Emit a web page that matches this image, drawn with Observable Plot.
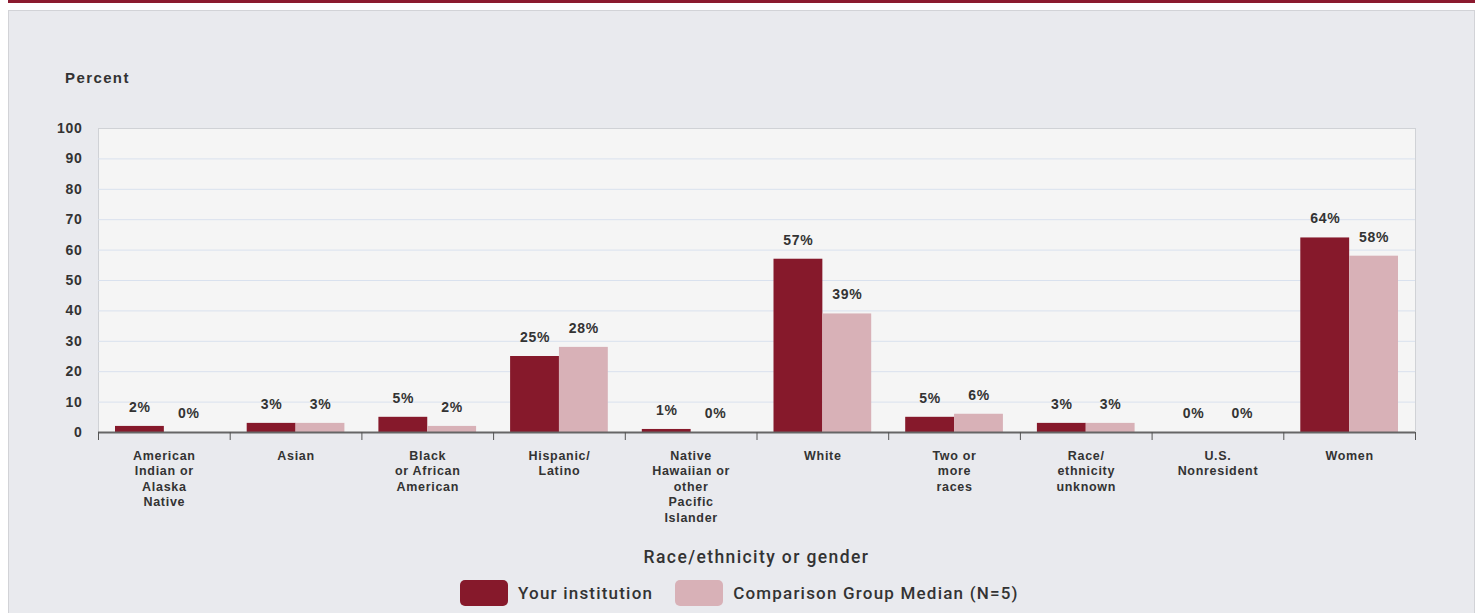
<!DOCTYPE html>
<html><head><meta charset="utf-8">
<script src="https://cdn.jsdelivr.net/npm/d3@7"></script>
<script src="https://cdn.jsdelivr.net/npm/@observablehq/plot@0.6"></script>
<style>
body{margin:0;background:#fff;width:1479px;height:613px;overflow:hidden;position:relative;font-family:"Liberation Sans",Arial,sans-serif}
#topbar{position:absolute;left:8px;top:0;width:1467px;height:3px;background:#8b1a2f}
#panel{position:absolute;left:8px;top:10px;width:1465px;height:610px;background:#e9eaee;border:1px solid #d2d3d7}
#ylabel{position:absolute;left:56px;top:58px;font-weight:bold;font-size:15px;letter-spacing:1.4px;color:#333}
#chart{position:absolute;left:0;top:100px}
#chart svg text{letter-spacing:0.7px}
#xtitle{position:absolute;left:89px;width:1317px;top:536px;text-align:center;font-family:Roboto,sans-serif;font-weight:500;font-size:17.5px;letter-spacing:1.4px;color:#333}
#legend{position:absolute;left:451px;top:569px;display:flex;align-items:center;font-family:Roboto,sans-serif;font-weight:500;font-size:17px;letter-spacing:1.2px;color:#333}
.sw{width:48px;height:26px;border-radius:5px;margin-right:10px}
.item{display:flex;align-items:center;margin-right:22px}
</style>
</head><body>
<div id="topbar"></div>
<div id="panel">
  <div id="ylabel">Percent</div>
  <div id="chart"></div>
  <div id="xtitle">Race/ethnicity or gender</div>
  <div id="legend"></div>
</div>
<script>
const categories = ["American Indian or Alaska Native", "Asian", "Black or African American", "Hispanic/Latino", "Native Hawaiian or other Pacific Islander", "White", "Two or more races", "Race/ethnicity unknown", "U.S. Nonresident", "Women"];
const tickLabels = ["American\nIndian or\nAlaska\nNative", "Asian", "Black\nor African\nAmerican", "Hispanic/\nLatino", "Native\nHawaiian or\nother\nPacific\nIslander", "White", "Two or\nmore\nraces", "Race/\nethnicity\nunknown", "U.S.\nNonresident", "Women"];
const series = ["Your institution", "Comparison Group Median (N=5)"];
const institution = [2, 3, 5, 25, 1, 57, 5, 3, 0, 64];
const comparison = [0, 3, 2, 28, 0, 39, 6, 3, 0, 58];
const yTicks = [0, 10, 20, 30, 40, 50, 60, 70, 80, 90, 100];
const colors = ["#86192b", "#d8b1b7"];

const instData = categories.map((c, i) => ({cat: c, v: institution[i]}));
const compData = categories.map((c, i) => ({cat: c, v: comparison[i]}));

const W = 1465, H = 421, ML = 89, MR = 59, MT = 17, MB = 100;
const band = (W - ML - MR) / categories.length;
const edge = 17;
const off = (edge + band / 2) / 2 - band / 2;

const chart = Plot.plot({
  width: W, height: H,
  marginLeft: ML, marginRight: MR, marginTop: MT, marginBottom: MB,
  style: {background: "transparent", fontFamily: "'Liberation Sans', Arial, sans-serif", color: "#333"},
  x: {type: "band", domain: categories, padding: 0, round: false, label: null},
  y: {domain: [0, 100], label: null},
  marks: [
    Plot.frame({fill: "#f5f5f5", stroke: "#d0d2d6"}),
    Plot.gridY(yTicks.filter(t => t > 0 && t < 100), {stroke: "#d9e1ee", strokeOpacity: 1}),
    Plot.barY(instData, {x: "cat", y: "v", fill: colors[0], insetLeft: edge, insetRight: band / 2}),
    Plot.barY(compData, {x: "cat", y: "v", fill: colors[1], insetLeft: band / 2, insetRight: edge}),
    Plot.text(instData, {x: "cat", y: "v", text: d => d.v + "%", dx: off, dy: -19, fontSize: 14, fontWeight: "bold", fill: "#333"}),
    Plot.text(compData, {x: "cat", y: "v", text: d => d.v + "%", dx: -off, dy: -19, fontSize: 14, fontWeight: "bold", fill: "#333"}),
    Plot.ruleY([0], {stroke: "#666", strokeWidth: 2}),
    Plot.axisY(yTicks, {tickSize: 0, tickPadding: 16, fontSize: 14, fontWeight: "bold", label: null}),
    Plot.axisX({tickSize: 0, tickPadding: 16, fontSize: 12.5, fontWeight: "bold", lineHeight: 1.25, tickFormat: d => tickLabels[categories.indexOf(d)], label: null}),
    Plot.axisX({tickSize: 8, text: null, dx: -band / 2, stroke: "#555", label: null}),
    Plot.axisX([categories[categories.length - 1]], {tickSize: 8, text: null, dx: band / 2, stroke: "#555", label: null})
  ]
});
document.getElementById("chart").appendChild(chart);

const legend = document.getElementById("legend");
series.forEach((s, i) => {
  const item = document.createElement("div");
  item.className = "item";
  const sw = document.createElement("div");
  sw.className = "sw";
  sw.style.background = colors[i];
  const t = document.createElement("span");
  t.textContent = s;
  item.appendChild(sw); item.appendChild(t);
  legend.appendChild(item);
});
</script>
</body></html>
